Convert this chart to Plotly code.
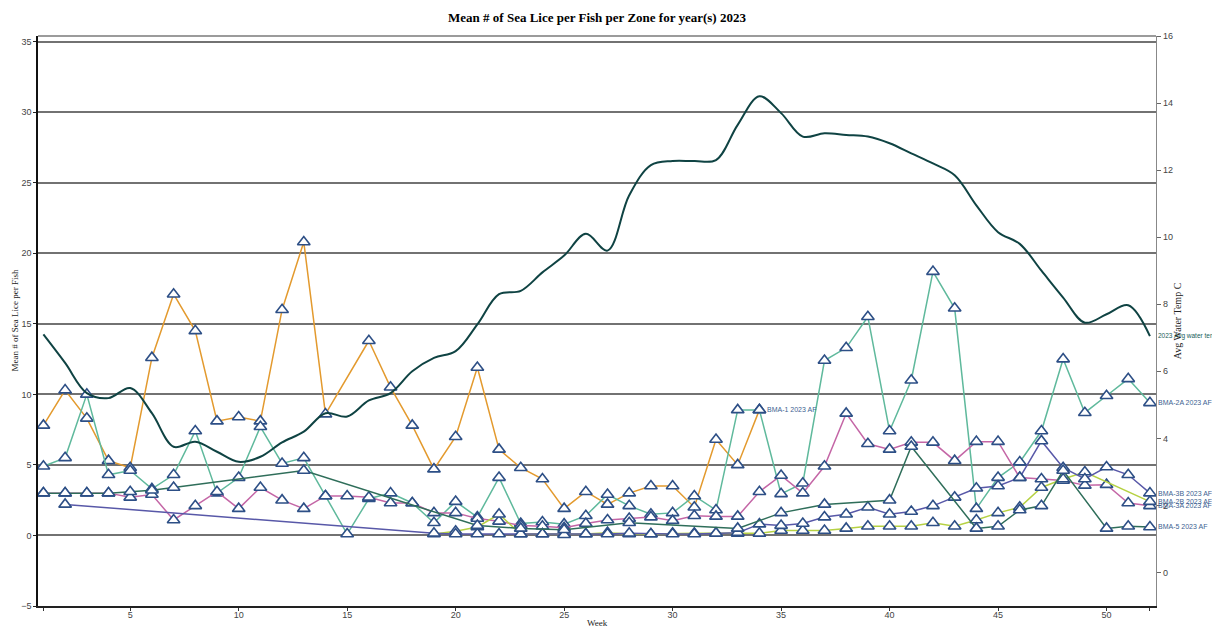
import plotly.graph_objects as go

N = None
weeks = list(range(1, 53))

bma1 = [7.8, 10.3, 8.3, 5.3, 4.8, 12.6, 17.1, 14.5, 8.1, 8.4,
        8.1, 16.0, 20.8, 8.6, N, 13.8, 10.5, 7.8, 4.7, 7.0,
        11.9, 6.1, 4.8, 4.0, 1.9, 3.1, 2.2, 3.0, 3.5, 3.5,
        2.0, 6.8, 5.0, 8.9] + [N] * 18

bma2a = [4.9, 5.5, 10.0, 4.3, 4.6, 3.3, 4.3, 7.4, 3.0, 4.1,
         7.7, 5.1, 5.5, 2.8, 0.1, 2.6, 3.0, 2.3, 0.9, 2.4,
         1.3, 4.1, 0.85, 0.95, 0.8, 1.4, 2.9, 2.1, 1.5, 1.6,
         2.8, 1.8, 8.9, 8.9, 2.95, 3.7, 12.4, 13.3, 15.5, 7.4,
         11.0, 18.7, 16.1, 1.9, 4.1, 5.2, 7.4, 12.5, 8.7, 9.9,
         11.1, 9.4]

bma3a = [3.0, 3.0, 3.0, 3.0, 2.7, 2.9, 1.1, 2.1, 3.1, 1.9,
         3.4, 2.5, 1.9, 2.8, 2.8, 2.7, 2.3, 2.3, 1.6, 1.6,
         1.2, 1.0, 0.7, 0.65, 0.55, 0.85, 1.1, 1.2, 1.3, 1.05,
         1.4, 1.35, 1.35, 3.1, 4.25, 3.0, 4.9, 8.65, 6.5, 6.1,
         6.6, 6.6, 5.3, 6.65, 6.65, 4.1, 4.0, 3.9, 3.55, 3.6,
         2.3, 2.1]

bma3b = [N, 2.2] + [N] * 16 + [
    0.15, 0.1, 0.1, 0.1, 0.1, 0.1, 0.05, 0.1, 0.1, 0.15,
    0.1, 0.1, 0.1, 0.15, 0.2, 0.8, 0.7, 0.85, 1.3, 1.5,
    2.0, 1.5, 1.7, 2.1, 2.7, 3.35, 3.5, 4.1, 6.7, 4.8,
    4.0, 4.85, 4.3, 3.0]

bma2b = [N] * 18 + [
    0.1, 0.3, 0.6, 1.5, 0.1, 0.1, 0.1, 0.1, 0.2, 0.1,
    0.1, 0.15, 0.15, 0.15, 0.15, 0.15, 0.35, 0.35, 0.35, 0.5,
    0.65, 0.65, 0.65, 0.9, 0.65, 1.1, 1.6, 2.0, 3.4, 4.0,
    4.5, N, N, 2.4]

bma5 = [3.0, 3.0, 3.0, 3.0, 3.1, 3.2, 3.4] + [N] * 5 + [4.6] + [N] * 7 + [
    0.7, N, 0.5, N, 0.4, N, N, 0.9, N, N,
    N, N, 0.5, N, 1.6, N, 2.2, N, N, 2.5,
    6.3, N, N, 0.5, 0.65, 1.8, 2.1, 4.6, N, 0.5,
    0.65, 0.6]

temp = [7.1, 6.25, 5.35, 5.2, 5.5, 4.75, 3.75, 3.9, 3.6, 3.3,
        3.45, 3.88, 4.2, 4.75, 4.65, 5.13, 5.35, 6.0, 6.4, 6.6,
        7.4, 8.3, 8.4, 8.95, 9.45, 10.1, 9.6, 11.25, 12.15, 12.27,
        12.27, 12.3, 13.35, 14.2, 13.7, 13.0, 13.1, 13.05, 13.0, 12.8,
        12.5, 12.2, 11.85, 10.95, 10.15, 9.8, 9.0, 8.2, 7.45, 7.7,
        7.97, 7.05]

series = [
    ("BMA-1 2023 AF", bma1, "#e39a2e"),
    ("BMA-2A 2023 AF", bma2a, "#5fb99c"),
    ("BMA-3A 2023 AF", bma3a, "#c466a6"),
    ("BMA-2B 2023 AF", bma2b, "#b6d143"),
    ("BMA-3B 2023 AF", bma3b, "#5858a8"),
    ("BMA-5 2023 AF", bma5, "#2f6e5a"),
]
temp_name = "2023 Avg water temp"

x_tickvals = [1, 5, 10, 15, 20, 25, 30, 35, 40, 45, 50, 52]
x_ticktext = ["", "5", "10", "15", "20", "25", "30", "35", "40", "45", "50", ""]

fig = go.Figure()

fig.add_trace(go.Scatter(
    x=weeks, y=temp, name=temp_name, yaxis="y2", mode="lines",
    line=dict(color="#0f4343", width=2, shape="spline", smoothing=1.0),
))

for name, vals, col in series:
    fig.add_trace(go.Scatter(
        x=weeks, y=vals, name=name, mode="lines+markers", connectgaps=True,
        line=dict(color=col, width=1.5),
        marker=dict(symbol="triangle-up", size=11, color="white",
                    line=dict(color="#2d4f86", width=1.6)),
    ))

annotations = []
for name, vals, col in series:
    idx = max(i for i, v in enumerate(vals) if v is not None)
    annotations.append(dict(
        x=weeks[idx], y=vals[idx], xref="x", yref="y", text=name,
        showarrow=False, xanchor="left", xshift=6,
        font=dict(family="Liberation Sans", size=7, color="#3d5f92")))
annotations.append(dict(
    x=weeks[-1], y=temp[-1], xref="x", yref="y2", text=temp_name,
    showarrow=False, xanchor="left", xshift=6,
    font=dict(family="Liberation Sans", size=6.5, color="#17605a")))

annotations.append(dict(
    x=-0.021, y=0.5, xref="paper", yref="paper", text="Mean # of Sea Lice per Fish",
    showarrow=False, textangle=-90, xanchor="center", yanchor="middle",
    font=dict(family="Liberation Serif", size=9, color="#222")))
annotations.append(dict(
    x=1.019, y=0.5, xref="paper", yref="paper", text="Avg Water Temp C",
    showarrow=False, textangle=-90, xanchor="center", yanchor="middle",
    font=dict(family="Liberation Serif", size=10, color="#222")))
annotations.append(dict(
    x=0.5, y=-0.018, xref="paper", yref="paper", text="Week",
    showarrow=False, xanchor="center", yanchor="top",
    font=dict(family="Liberation Serif", size=9, color="#222")))

tickfont = dict(family="Liberation Sans", size=9, color="#444")

# the page body adds an 8px offset, so the figure is sized/margined to compensate
fig.update_layout(
    width=1212, height=618,
    margin=dict(l=30, r=64, t=28, b=20, autoexpand=False),
    plot_bgcolor="white", paper_bgcolor="white",
    showlegend=False,
    title=dict(text="<b>Mean # of Sea Lice per Fish per Zone for year(s) 2023</b>",
               x=0.5, xref="paper", xanchor="center",
               y=1 - 9 / 618, yref="container", yanchor="middle",
               font=dict(family="Liberation Serif", size=13, color="black")),
    xaxis=dict(range=[0.75, 52.28], tickvals=x_tickvals, ticktext=x_ticktext,
               ticks="outside", ticklen=3, tickcolor="#333", automargin=False,
               ticklabelstandoff=-4,
               showline=True, linecolor="#222", linewidth=1.5,
               showgrid=False, zeroline=False, tickfont=tickfont),
    yaxis=dict(range=[-5, 35.4], tickvals=list(range(-5, 36, 5)),
               ticks="outside", ticklen=3, tickcolor="#222", automargin=False,
               showline=True, linecolor="#111", linewidth=1.5,
               showgrid=True, gridcolor="#727272", gridwidth=1.6,
               zeroline=False, tickfont=tickfont),
    yaxis2=dict(overlaying="y", side="right", range=[-1, 16],
                tickvals=list(range(0, 17, 2)), automargin=False,
                ticks="outside", ticklen=4, tickcolor="#666",
                showline=True, linecolor="#888", linewidth=1.2,
                showgrid=False, zeroline=False, tickfont=tickfont),
    annotations=annotations,
    shapes=[dict(type="line", xref="paper", yref="paper", x0=0, x1=1, y0=1, y1=1,
                 line=dict(color="#7a7a7a", width=1.6))],
)

fig.write_html("out.html")
